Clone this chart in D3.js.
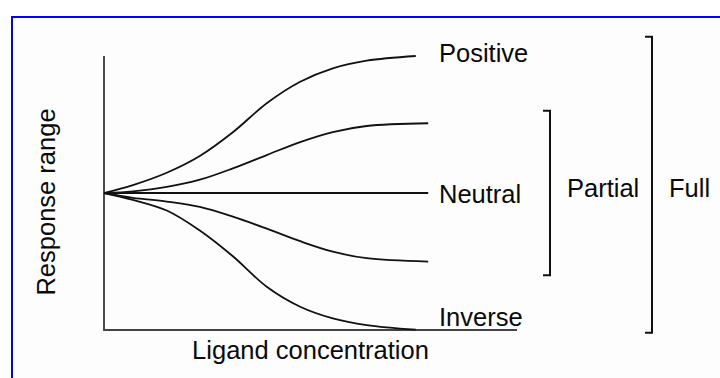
<!DOCTYPE html>
<html>
<head>
<meta charset="utf-8">
<script src="https://cdn.jsdelivr.net/npm/d3@7"></script>
<style>
  html, body { margin: 0; padding: 0; background: #ffffff; }
  svg { display: block; }
  text { font-family: "Liberation Sans", Arial, sans-serif; fill: #0a0a0a; }
</style>
</head>
<body>
<script>
//size
const width = 720;
const height = 378;

//concentration points (0-100 along the x axis)
const concFull = [0, 7, 15.2, 23.2, 31.2, 39.4, 47.5, 55.4, 63.6, 75.5];
const concPartial = [0, 7, 15.2, 23.2, 31.2, 39.4, 47.5, 55.4, 63.6, 78.5];

//response values (-1 .. 1)
const positive = [0, 0.058, 0.148, 0.27, 0.443, 0.655, 0.812, 0.91, 0.966, 1.0];
const partialPositive = [0, 0.012, 0.044, 0.097, 0.18, 0.277, 0.372, 0.445, 0.489, 0.509];
const neutral = [0, 0, 0, 0, 0, 0, 0, 0, 0, 0];
const partialNegative = [0, -0.035, -0.063, -0.102, -0.173, -0.26, -0.352, -0.428, -0.476, -0.501];
const inverse = [0, -0.05, -0.128, -0.274, -0.462, -0.684, -0.83, -0.915, -0.964, -0.998];

//curve labels
const curveLabels = ["Positive", "Neutral", "Inverse"];
const curveLabelValues = [1, 0, -1];

//brackets [top, bottom] in response units
const partialRange = [0.6, -0.6];
const fullRange = [1.14, -1.02];

const svg = d3.select("body")
  .append("svg")
  .attr("width", width)
  .attr("height", height);

//panel with blue frame
svg.append("rect")
  .attr("x", 12)
  .attr("y", 17)
  .attr("width", 760)
  .attr("height", 420)
  .attr("fill", "#fdfdfd")
  .attr("stroke", "#0000ff")
  .attr("stroke-width", 2);

//scales
const x = d3.scaleLinear().domain([0, 100]).range([104, 517]);
const y = d3.scaleLinear().domain([-1, 1]).range([330, 56]);

//axes (plain lines, no ticks)
svg.append("line")
  .attr("x1", x(0)).attr("x2", x(0))
  .attr("y1", y(1)).attr("y2", y(-1) + 1)
  .attr("stroke", "#111")
  .attr("stroke-width", 1.5);

svg.append("line")
  .attr("x1", x(0)).attr("x2", x(100))
  .attr("y1", y(-1)).attr("y2", y(-1))
  .attr("stroke", "#444")
  .attr("stroke-width", 2);

//curves
const series = [
  { conc: concFull, values: positive },
  { conc: concPartial, values: partialPositive },
  { conc: concPartial, values: neutral },
  { conc: concPartial, values: partialNegative },
  { conc: concFull, values: inverse },
];

const line = d3.line()
  .x((d) => x(d[0]))
  .y((d) => y(d[1]))
  .curve(d3.curveCatmullRom.alpha(0.5));

svg.append("g")
  .selectAll("path")
  .data(series)
  .enter()
  .append("path")
  .attr("fill", "none")
  .attr("stroke", "#111")
  .attr("stroke-width", 1.8)
  .attr("d", (s) => line(d3.zip(s.conc, s.values)));

//curve labels
svg.append("g")
  .selectAll("text")
  .data(curveLabels)
  .enter()
  .append("text")
  .attr("x", 439)
  .attr("y", (d, i) => y(curveLabelValues[i]))
  .attr("dy", (d, i) => (i === 0 ? "0.22em" : i === 1 ? "0.4em" : "-0.15em"))
  .attr("font-size", "25.5px")
  .text((d) => d);

//brackets
function bracket(range, bx, label, lx) {
  svg.append("path")
    .attr("fill", "none")
    .attr("stroke", "#111")
    .attr("stroke-width", 2)
    .attr("d", `M${bx - 7},${y(range[0])}H${bx}V${y(range[1])}H${bx - 7}`);

  svg.append("text")
    .attr("x", lx)
    .attr("y", 197)
    .attr("font-size", "25.5px")
    .text(label);
}

bracket(partialRange, 550, "Partial", 567);
bracket(fullRange, 652, "Full", 669);

//axis titles
svg.append("text")
  .attr("x", (x(0) + x(100)) / 2)
  .attr("y", 359)
  .attr("text-anchor", "middle")
  .attr("font-size", "25.5px")
  .text("Ligand concentration");

svg.append("text")
  .attr("transform", "translate(55,202) rotate(-90)")
  .attr("text-anchor", "middle")
  .attr("font-size", "25.5px")
  .text("Response range");
</script>
</body>
</html>
